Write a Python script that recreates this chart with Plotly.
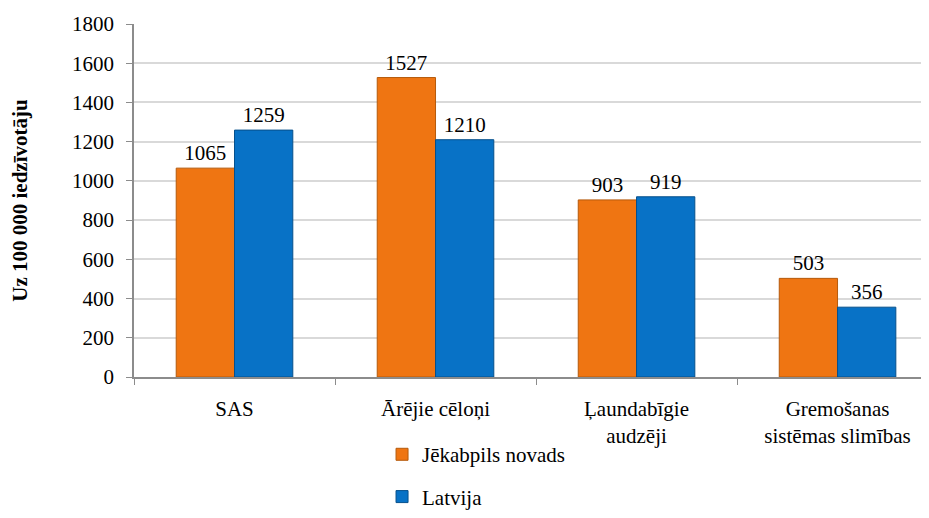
import plotly.graph_objects as go

categories = ["SAS", "Ārējie cēloņi", "Ļaundabīgie<br>audzēji", "Gremošanas<br>sistēmas slimības"]
jekabpils = [1065, 1527, 903, 503]
latvija = [1259, 1210, 919, 356]
series_names = ["Jēkabpils novads", "Latvija"]
y_ticks = [0, 200, 400, 600, 800, 1000, 1200, 1400, 1600, 1800]

FONT = "Times New Roman"
SIZE = 21

fig = go.Figure()
fig.add_trace(go.Bar(
    x=categories, y=jekabpils, name=series_names[0],
    marker=dict(color="#EF7512", line=dict(color="#B55A0C", width=1)),
    text=[str(v) for v in jekabpils], textposition="outside",
    textfont=dict(family=FONT, size=SIZE, color="#000000"),
    cliponaxis=False, legendgroup="a",
))
fig.add_trace(go.Bar(
    x=categories, y=latvija, name=series_names[1],
    marker=dict(color="#0872C6", line=dict(color="#06508C", width=1)),
    text=[str(v) for v in latvija], textposition="outside",
    textfont=dict(family=FONT, size=SIZE, color="#000000"),
    cliponaxis=False, legendgroup="b",
))

fig.update_layout(
    width=921, height=510,
    margin=dict(l=126, r=0, t=16, b=141),
    paper_bgcolor="white", plot_bgcolor="white",
    font=dict(family=FONT, size=SIZE, color="#000000"),
    barmode="group", bargap=0.42, bargroupgap=0,
    showlegend=True,
    legend=dict(
        orientation="v", x=0.312, xanchor="left", y=-0.397, yanchor="bottom",
        font=dict(family=FONT, size=SIZE, color="#000000"),
        tracegroupgap=12, itemwidth=30, bgcolor="rgba(0,0,0,0)",
    ),
    xaxis=dict(
        range=[-0.5, 3.455], showgrid=False, showline=True,
        linecolor="#8C8C8C", linewidth=1.5,
        ticks="outside", ticklen=6, tickcolor="#8C8C8C",
        tickson="boundaries", automargin=False, ticklabelstandoff=12,
        tickfont=dict(family=FONT, size=SIZE, color="#000000"),
    ),
    yaxis=dict(
        range=[0, 1800], tickvals=y_ticks, automargin=False,
        showgrid=True, gridcolor="#D9D9D9", gridwidth=1.5,
        showline=True, linecolor="#8C8C8C", linewidth=1.5,
        ticks="outside", ticklen=6, tickcolor="#8C8C8C", ticklabelstandoff=8,
        tickfont=dict(family=FONT, size=SIZE, color="#000000"),
        zeroline=False,
        title=dict(text="<b>Uz 100 000 iedzīvotāju</b>", standoff=40,
                   font=dict(family=FONT, size=SIZE, color="#000000")),
    ),
)

fig.write_html("out.html")
